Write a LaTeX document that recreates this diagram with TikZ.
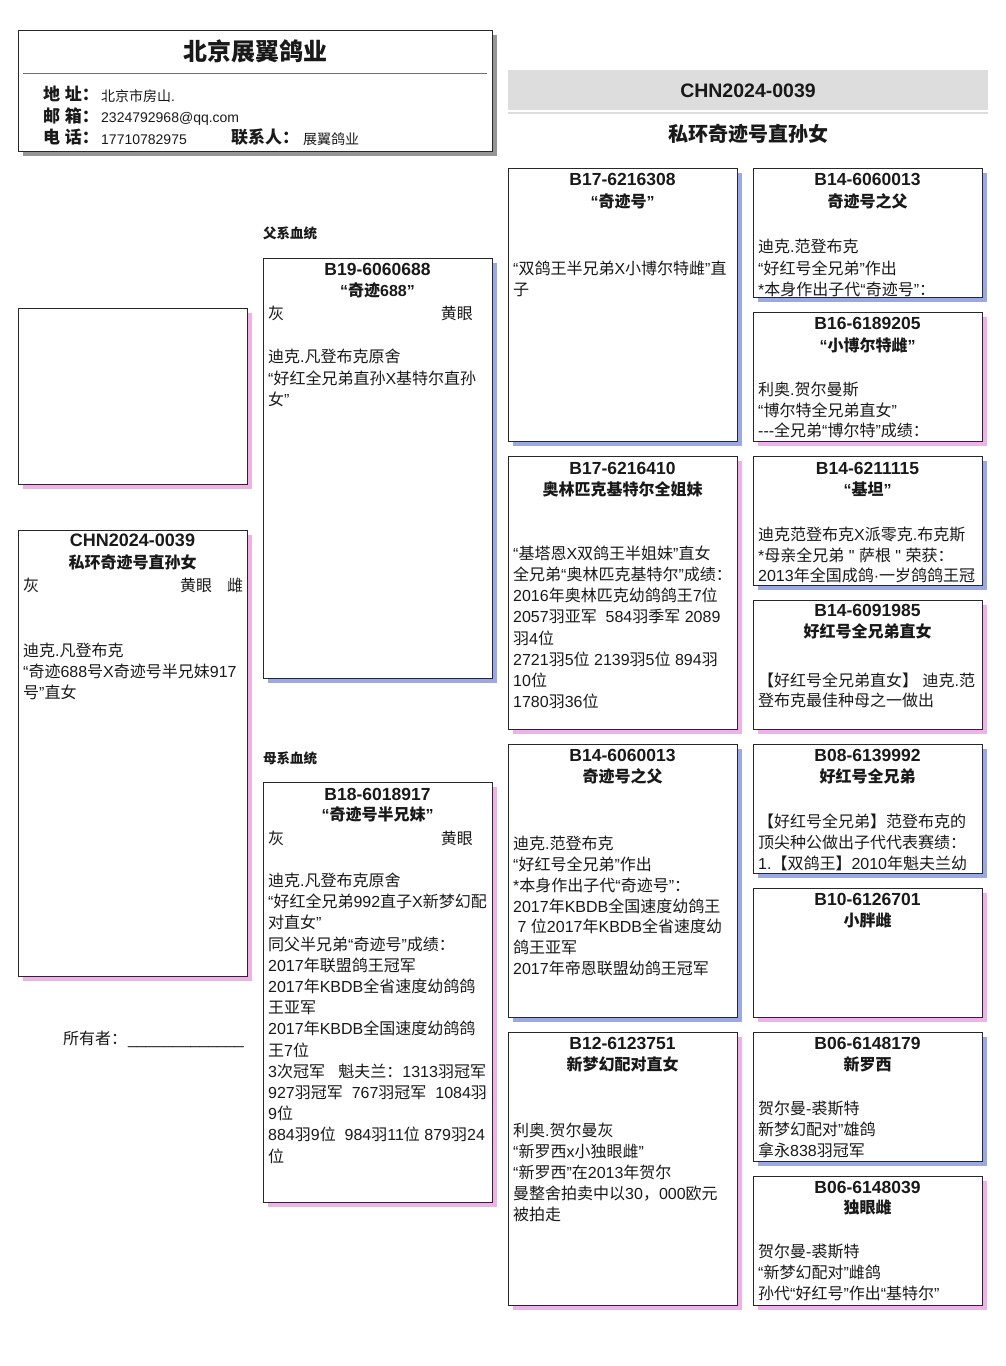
\documentclass[tikz,border=0pt]{standalone}
\usepackage{fontspec}
\setmainfont{Liberation Sans}
\newfontfamily\cjkfam{Noto Sans CJK SC}
\newfontfamily\latfam{Liberation Sans}
\newXeTeXintercharclass\cjkclass
\newcount\ccnt
\ccnt="2E80
\loop
  \XeTeXcharclass\ccnt=\cjkclass
  \ifnum\ccnt<"9FFF \advance\ccnt by 1
\repeat
\ccnt="FF00
\loop
  \XeTeXcharclass\ccnt=\cjkclass
  \ifnum\ccnt<"FFEF \advance\ccnt by 1
\repeat
\XeTeXinterchartoks 0 \cjkclass = {\cjkfam}
\XeTeXinterchartoks 4095 \cjkclass = {\cjkfam}
\XeTeXinterchartoks \cjkclass 0 = {\latfam}
\XeTeXinterchartoks \cjkclass 4095 = {\latfam}
\XeTeXinterchartokenstate=1

\definecolor{boxline}{RGB}{40,40,40}
\definecolor{shblue}{RGB}{155,168,230}
\definecolor{shpink}{RGB}{240,176,232}
\definecolor{shgray}{RGB}{150,150,150}
\definecolor{bandgray}{RGB}{221,221,221}
\definecolor{rulegray}{RGB}{110,110,110}
\definecolor{txt}{RGB}{25,25,25}

\tikzset{
  boxframe/.style={draw=boxline, fill=white, line width=0.9pt},
  idt/.style={font=\bfseries\fontsize{17.5}{20}\selectfont, anchor=base, inner sep=0pt, text=txt},
  namet/.style={font=\bfseries\fontsize{16}{19}\selectfont, anchor=base, inner sep=0pt, text=txt},
  bodyt/.style={font=\fontsize{16}{19}\selectfont, anchor=base west, inner sep=0pt, text=txt},
  bodyr/.style={font=\fontsize{16}{19}\selectfont, anchor=base east, inner sep=0pt, text=txt},
  lbl/.style={font=\bfseries\fontsize{17}{20}\selectfont, anchor=base west, inner sep=0pt, text=txt},
  val/.style={font=\fontsize{14}{17}\selectfont, anchor=base west, inner sep=0pt, text=txt},
  sect/.style={font=\bfseries\fontsize{13.5}{16}\selectfont, anchor=base west, inner sep=0pt, text=txt},
}

\newcommand\pbox[5]{%
  \fill[#5] (#1+4.5,#2+4.5) rectangle (#3+4.5,#4+4.5);
  \draw[boxframe] (#1,#2) rectangle (#3,#4);}
\newcommand\blines[5]{%
  \foreach \tline [count=\k] in {#5} {\node[bodyt] (#1-\k) at (#2,{#3+(\k-1)*#4}) {\tline};}}

\begin{document}
\begin{tikzpicture}[x=1pt,y=-1pt]
\useasboundingbox (0,0) rectangle (1006,1366);
\fill[white] (0,0) rectangle (1006,1366);

% ---------- header ----------
\fill[shgray] (23,35) rectangle (497,156);
\draw[boxframe] (18,30) rectangle (492,151);
\node[font=\bfseries\fontsize{24}{28}\selectfont, anchor=base, inner sep=0pt, text=txt] (htitle) at (255,60.5) {北京展翼鸽业};
\draw[rulegray, line width=1pt] (23,73.5) -- (487,73.5);
\node[lbl] (l1) at (43,100.5) {地 址：};
\node[val] (v1) at (101,101) {北京市房山.};
\node[lbl] (l2) at (43,122) {邮 箱：};
\node[val] (v2) at (101,122.5) {2324792968@qq.com};
\node[lbl] (l3) at (43,143.5) {电 话：};
\node[val] (v3) at (101,144) {17710782975};
\node[lbl] (l4) at (231,143.5) {联系人：};
\node[val] (v4) at (303,144) {展翼鸽业};

% ---------- band ----------
\fill[bandgray] (508,70) rectangle (988,109.5);
\draw[bandgray, line width=2pt] (508,113) -- (988,113);
\node[font=\bfseries\fontsize{19.5}{22}\selectfont, anchor=base, inner sep=0pt, text=txt] (bandid) at (748,97) {CHN2024-0039};
\node[font=\bfseries\fontsize{20}{24}\selectfont, anchor=base, inner sep=0pt, text=txt] (bandname) at (748,141.5) {私环奇迹号直孙女};

% ---------- photo & subject ----------
\pbox{18}{308}{247}{484}{shpink}
\pbox{18}{530}{247}{976}{shpink}
\node[idt, font=\bfseries\fontsize{18}{21}\selectfont] (sid) at (132.5,546.5) {CHN2024-0039};
\node[namet] (sname) at (132.5,568) {私环奇迹号直孙女};
\node[bodyt] (scol) at (23,591) {灰};
\node[bodyt] (seye) at (180,591) {黄眼};
\node[bodyt] (ssex) at (227,591) {雌};
\blines{sb}{23}{656}{21}{{迪克.凡登布克},{“奇迹688号X奇迹号半兄妹917},{号”直女}}
\node[bodyt] (owner) at (63,1044) {所有者：};
\node[bodyt] (ownerline) at (128,1044) {\_\_\_\_\_\_\_\_\_\_\_\_\_};

% ---------- sire ----------
\node[sect] (fsect) at (263,238) {父系血统};
\pbox{263}{258}{492}{678}{shblue}
\node[idt] (fid) at (377.5,275) {B19-6060688};
\node[namet] (fname) at (377.5,296) {“奇迹688”};
\node[bodyt] (fcol) at (268,319.5) {灰};
\node[bodyr] (feye) at (473,319.5) {黄眼};
\blines{fb}{268}{362.5}{21.5}{{迪克.凡登布克原舍},{“好红全兄弟直孙X基特尔直孙},{女”}}

% ---------- dam ----------
\node[sect] (msect) at (263,763) {母系血统};
\pbox{263}{782}{492}{1202}{shpink}
\node[idt] (mid) at (377.5,800) {B18-6018917};
\node[namet] (mname) at (377.5,820.5) {“奇迹号半兄妹”};
\node[bodyt] (mcol) at (268,844.5) {灰};
\node[bodyr] (meye) at (473,844.5) {黄眼};
\blines{mb}{268}{886.5}{21.2}{{迪克.凡登布克原舍},{“好红全兄弟992直子X新梦幻配},{对直女”},{同父半兄弟“奇迹号”成绩：},{2017年联盟鸽王冠军},{2017年KBDB全省速度幼鸽鸽},{王亚军},{2017年KBDB全国速度幼鸽鸽},{王7位},{3次冠军\ \ \ 魁夫兰：1313羽冠军},{927羽冠军\ \ 767羽冠军\ \ 1084羽},{9位},{884羽9位\ \ 984羽11位 879羽24},{位}}

% ---------- column 3 ----------
\pbox{508}{168}{737}{441}{shblue}
\node[idt] (c3a-id) at (622.5,185.3) {B17-6216308};
\node[namet] (c3a-nm) at (622.5,207) {“奇迹号”};
\blines{c3a}{513}{274.5}{21}{{“双鸽王半兄弟X小博尔特雌”直},{子}}

\pbox{508}{456}{737}{729}{shpink}
\node[idt] (c3b-id) at (622.5,474.8) {B17-6216410};
\node[namet] (c3b-nm) at (622.5,495.5) {奥林匹克基特尔全姐妹};
\blines{c3b}{513}{559.5}{21.14}{{“基塔恩X双鸽王半姐妹”直女},{全兄弟“奥林匹克基特尔”成绩：},{2016年奥林匹克幼鸽鸽王7位},{2057羽亚军\ \ 584羽季军 2089},{羽4位},{2721羽5位 2139羽5位 894羽},{10位},{1780羽36位}}

\pbox{508}{744}{737}{1017}{shblue}
\node[idt] (c3c-id) at (622.5,761.3) {B14-6060013};
\node[namet] (c3c-nm) at (622.5,782.5) {奇迹号之父};
\blines{c3c}{513}{849.5}{20.85}{{迪克.范登布克},{“好红号全兄弟”作出},{*本身作出子代“奇迹号”：},{2017年KBDB全国速度幼鸽王},{\ 7 位2017年KBDB全省速度幼},{鸽王亚军},{2017年帝恩联盟幼鸽王冠军}}

\pbox{508}{1032}{737}{1305}{shpink}
\node[idt] (c3d-id) at (622.5,1049.8) {B12-6123751};
\node[namet] (c3d-nm) at (622.5,1070.5) {新梦幻配对直女};
\blines{c3d}{513}{1136.5}{21}{{利奥.贺尔曼灰},{“新罗西x小独眼雌”},{“新罗西”在2013年贺尔},{曼整舍拍卖中以30，000欧元},{被拍走}}

% ---------- column 4 ----------
\pbox{753}{168}{982}{297}{shblue}
\node[idt] (c4a-id) at (867.5,185.3) {B14-6060013};
\node[namet] (c4a-nm) at (867.5,207) {奇迹号之父};
\blines{c4a}{758}{252.5}{21.5}{{迪克.范登布克},{“好红号全兄弟”作出},{*本身作出子代“奇迹号”：}}

\pbox{753}{312}{982}{441}{shpink}
\node[idt] (c4b-id) at (867.5,329.8) {B16-6189205};
\node[namet] (c4b-nm) at (867.5,351.5) {“小博尔特雌”};
\blines{c4b}{758}{395.5}{20.5}{{利奥.贺尔曼斯},{“博尔特全兄弟直女”},{-{}-{}-全兄弟“博尔特”成绩：}}

\pbox{753}{456}{982}{585}{shblue}
\node[idt] (c4c-id) at (867.5,474.8) {B14-6211115};
\node[namet] (c4c-nm) at (867.5,495.5) {“基坦”};
\blines{c4c}{758}{540.5}{20.5}{{迪克范登布克X派零克.布克斯},{*母亲全兄弟 " 萨根 " 荣获：},{2013年全国成鸽·一岁鸽鸽王冠}}

\pbox{753}{600}{982}{729}{shpink}
\node[idt] (c4d-id) at (867.5,616.3) {B14-6091985};
\node[namet] (c4d-nm) at (867.5,637.5) {好红号全兄弟直女};
\blines{c4d}{758}{686}{20.5}{{【好红号全兄弟直女】 迪克.范},{登布克最佳种母之一做出}}

\pbox{753}{744}{982}{873}{shblue}
\node[idt] (c4e-id) at (867.5,761.3) {B08-6139992};
\node[namet] (c4e-nm) at (867.5,782.5) {好红号全兄弟};
\blines{c4e}{758}{827.5}{21}{{【好红号全兄弟】范登布克的},{顶尖种公做出子代代表赛绩：},{1.【双鸽王】2010年魁夫兰幼}}

\pbox{753}{888}{982}{1017}{shpink}
\node[idt] (c4f-id) at (867.5,905.8) {B10-6126701};
\node[namet] (c4f-nm) at (867.5,926.5) {小胖雌};

\pbox{753}{1032}{982}{1161}{shblue}
\node[idt] (c4g-id) at (867.5,1049.8) {B06-6148179};
\node[namet] (c4g-nm) at (867.5,1070.5) {新罗西};
\blines{c4g}{758}{1114.5}{20.75}{{贺尔曼-裘斯特},{新梦幻配对”雄鸽},{拿永838羽冠军}}

\pbox{753}{1176}{982}{1305}{shpink}
\node[idt] (c4h-id) at (867.5,1193.3) {B06-6148039};
\node[namet] (c4h-nm) at (867.5,1213.5) {独眼雌};
\blines{c4h}{758}{1257.5}{21}{{贺尔曼-裘斯特},{“新梦幻配对”雌鸽},{孙代“好红号”作出“基特尔”}}
\end{tikzpicture}
\end{document}
